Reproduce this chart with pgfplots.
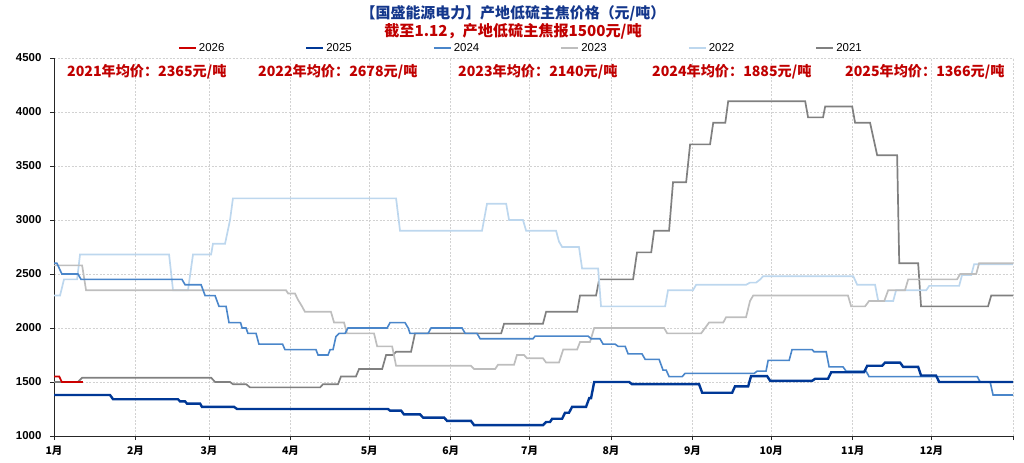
\documentclass[border=0pt]{standalone}
\usepackage{pgfplots}
\pgfplotsset{compat=1.18}
\usepackage{fontspec}
\setmainfont{Liberation Sans}
\newfontfamily\cjk{Noto Sans CJK SC}
\definecolor{c26}{RGB}{204,0,0}
\definecolor{c25}{RGB}{0,56,150}
\definecolor{c24}{RGB}{74,134,202}
\definecolor{c23}{RGB}{190,190,190}
\definecolor{c22}{RGB}{189,215,238}
\definecolor{c21}{RGB}{128,128,128}
\definecolor{ttl}{RGB}{20,55,140}
\definecolor{rd}{RGB}{192,0,0}
\pgfplotstableread{
d v
0 1500
9.1 1500
10.7 1540
59.8 1540
61.3 1500
67 1500
68.1 1480
73.1 1480
74.6 1450
101.3 1450
102.4 1480
108.1 1480
109.2 1550
114.9 1550
116.1 1620
124.9 1620
126.4 1750
129 1750
130.2 1780
135.9 1780
137.4 1950
170.2 1950
171.3 2040
186.1 2040
187.3 2150
199.1 2150
200.2 2300
206.3 2300
207.5 2450
220.4 2450
221.9 2700
227.3 2700
228.4 2900
234.1 2900
235.6 3350
240.6 3350
242.1 3700
249.7 3700
250.9 3900
255.5 3900
256.6 4100
285.9 4100
287 3950
292.7 3950
293.5 4050
303.8 4050
304.9 3900
310.6 3900
313.3 3600
320.9 3600
321.7 2600
328.9 2600
330 2200
355.5 2200
356.7 2300
365 2300
}\tA
\pgfplotstableread{
d v
0 2300
2.3 2300
3.8 2450
8.8 2450
9.9 2680
43.8 2680
45.3 2350
51 2350
52.9 2680
59.8 2680
60.5 2780
65.1 2780
67 3000
68.1 3200
130.2 3200
131.7 2900
162.9 2900
164.8 3150
172.1 3150
173.2 3000
178.5 3000
179.7 2900
191.1 2900
192.2 2800
193.4 2750
199.8 2750
201 2550
207.1 2550
208.2 2200
232.6 2200
233.7 2350
243.2 2350
244.4 2400
263.4 2400
264.9 2420
267.2 2420
268.8 2450
269.9 2480
304.2 2480
305.7 2400
312.5 2400
313.7 2250
319.4 2250
320.5 2350
332 2350
333.1 2390
344.5 2390
345.6 2490
349.1 2490
350.2 2590
365 2590
}\tB
\pgfplotstableread{
d v
0 2580
10.7 2580
12.2 2350
88.3 2350
89.1 2320
91.7 2320
92.9 2260
94.4 2200
95.5 2150
105.4 2150
106.6 2050
110.4 2050
111.5 1950
121.8 1950
123 1830
128.7 1830
130.2 1650
158.7 1650
159.9 1620
167.9 1620
169 1660
175.1 1660
176.2 1750
178.9 1750
180 1720
186.1 1720
187.3 1680
192.2 1680
193.8 1800
199.1 1800
200.2 1870
204 1870
205.6 2000
232.2 2000
233.4 1950
246.3 1950
247.8 2000
249.3 2050
254.7 2050
255.8 2100
263.4 2100
264.9 2250
266.1 2300
302.2 2300
303.4 2200
308.7 2200
310.2 2250
316 2250
317.5 2350
323.9 2350
325.1 2450
343.7 2450
344.9 2500
351 2500
352.1 2600
365 2600
}\tC
\pgfplotstableread{
d v
0 2600
1.1 2600
3 2500
9.1 2500
10.3 2450
48.7 2450
49.9 2400
56 2400
57.5 2300
61.3 2300
62.8 2200
65.5 2200
66.6 2050
71 2050
71.6 2000
73.1 2000
73.8 1950
76.9 1950
78 1850
87 1850
87.9 1800
99.7 1800
100.5 1750
104.3 1750
105.1 1800
106.2 1800
107.3 1920
108.5 1950
110.8 1950
111.9 2000
126.8 2000
127.9 2050
133.6 2050
134.8 2000
135.5 1950
142.4 1950
143.5 2000
155.3 2000
156.5 1950
161 1950
162.2 1900
182.3 1900
183.1 1925
203.3 1925
204.4 1900
207.8 1900
209 1850
213.6 1850
214.7 1830
217.4 1830
218.5 1760
223.8 1760
225 1710
230.3 1710
231.8 1610
233 1610
234.1 1550
239.1 1550
240.2 1580
266.5 1580
267.6 1600
271 1600
271.8 1700
279.8 1700
280.9 1800
288.5 1800
289.3 1780
293.9 1780
295 1640
300.3 1640
301.5 1600
309.1 1600
310.2 1550
351.4 1550
352.5 1500
356.3 1500
357.4 1380
365 1380
}\tD
\pgfplotstableread{
d v
0 1380
21.3 1380
22.5 1340
47.2 1340
48 1320
49.9 1320
50.6 1300
55.6 1300
56.3 1270
68.5 1270
69.7 1250
127.1 1250
127.9 1235
132.1 1235
133.2 1200
139.3 1200
140.5 1170
148.5 1170
149.6 1140
158.7 1140
159.9 1100
186.1 1100
187.3 1130
188.8 1130
189.6 1160
193.4 1160
194.5 1215
196 1215
197.2 1270
202.5 1270
203.7 1350
204.4 1350
205.6 1500
218.9 1500
220 1480
245.5 1480
246.7 1400
258.1 1400
259.2 1460
264.2 1460
265.3 1555
271.4 1555
272.6 1510
288.5 1510
289.7 1530
294.6 1530
295.8 1590
308.3 1590
309.5 1650
315.2 1650
316.3 1680
322 1680
323.2 1640
328.9 1640
330 1560
335.7 1560
336.9 1500
365 1500
}\tE
\pgfplotstableread{
d v
0 1550
2 1550
3 1500
11 1500
}\tF
\begin{document}
\begin{tikzpicture}
\useasboundingbox (0,0) rectangle (1024bp,463bp);
\begin{axis}[
  at={(54bp,27bp)}, anchor=south west,
  scale only axis, width=959bp, height=378bp,
  xmin=0, xmax=365, ymin=1000, ymax=4500,
  axis x line*=bottom, axis y line*=left,
  axis line style={black!85, line width=1bp},
  xtick={0,31,59,90,120,151,181,212,243,273,304,334},
  xticklabels={1月,2月,3月,4月,5月,6月,7月,8月,9月,10月,11月,12月},
  extra x ticks={365}, extra x tick labels={},
  ytick={1000,1500,2000,2500,3000,3500,4000,4500},
  yticklabels={1000,1500,2000,2500,3000,3500,4000,4500},
  xticklabel style={font=\cjk\bfseries\fontsize{10.5}{10.5}\selectfont, yshift=-2bp},
  yticklabel style={font=\bfseries\fontsize{11.5}{11.5}\selectfont, xshift=-5bp},
  tick align=outside, major tick length=4bp,
  tick style={black!85, line width=0.8bp},
  grid=major,
  grid style={gray!35, line width=0.6bp, dash pattern=on 2bp off 1.5bp},
  legend columns=6, reverse legend,
  legend style={at={(0.129,1.027)}, anchor=west, draw=none, fill=none,
    font=\fontsize{11.5}{11.5}\selectfont, inner sep=0pt,
    /tikz/every even column/.append style={column sep=79bp}},
  legend image code/.code={\draw[#1, line width=2bp] (0bp,0bp) -- (17bp,0bp);},
  clip=false,
]
\addplot[c21, line width=1.7bp] table[x=d,y=v]{\tA};
\addlegendentry{2021}
\addplot[c22, line width=1.7bp] table[x=d,y=v]{\tB};
\addlegendentry{2022}
\addplot[c23, line width=1.7bp] table[x=d,y=v]{\tC};
\addlegendentry{2023}
\addplot[c24, line width=1.6bp] table[x=d,y=v]{\tD};
\addlegendentry{2024}
\addplot[c25, line width=2.4bp] table[x=d,y=v]{\tE};
\addlegendentry{2025}
\addplot[c26, line width=1.7bp] table[x=d,y=v]{\tF};
\addlegendentry{2026}
\end{axis}
\node[ttl, font=\cjk\bfseries\fontsize{15}{15}\selectfont] at (513bp,450bp) {【国盛能源电力】产地低硫主焦价格（元/吨）};
\node[rd, font=\cjk\bfseries\fontsize{15.2}{15.2}\selectfont] at (513bp,432bp) {截至1.12，产地低硫主焦报1500元/吨};
\foreach \xx/\tt in {67/{2021年均价：2365元/吨}, 258/{2022年均价：2678元/吨}, 458/{2023年均价：2140元/吨}, 652/{2024年均价：1885元/吨}, 845/{2025年均价：1366元/吨}}
  \node[rd, anchor=west, inner sep=0pt, font=\cjk\bfseries\fontsize{14.2}{14.2}\selectfont] at (\xx bp,391bp) {\tt};
\end{tikzpicture}
\end{document}
